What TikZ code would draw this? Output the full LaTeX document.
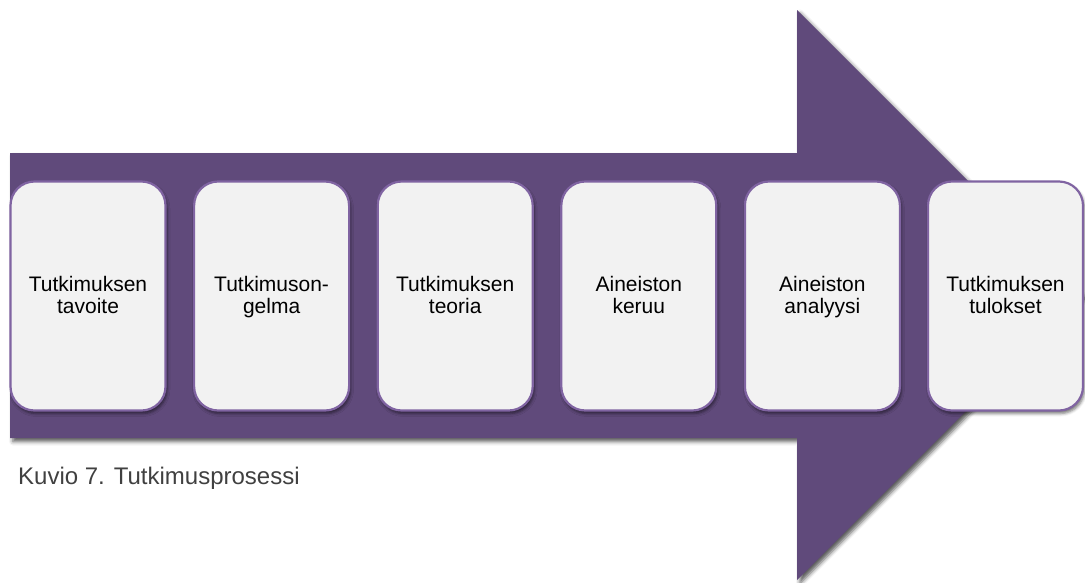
\documentclass[tikz,border=0pt]{standalone}
\usepackage{fontspec}
\setmainfont{Liberation Sans}
\usetikzlibrary{shadows,shadows.blur}
\definecolor{arrowfill}{HTML}{604A7B}
\definecolor{boxline}{HTML}{8064A2}
\definecolor{boxfill}{HTML}{F2F2F2}
\definecolor{captiontext}{HTML}{404040}
% two centred lines with fixed line extents, so every box sets its text alike
\newcommand{\stagetext}[2]{\rule{0pt}{17pt}#1\\#2\rule[-4.5pt]{0pt}{4.5pt}}
\begin{document}
\begin{tikzpicture}[x=1pt,y=-1pt,
  stagebox/.style={draw=boxline, line width=2.2pt, fill=boxfill,
    rounded corners=24pt, minimum width=155pt, minimum height=229pt,
    align=center, inner sep=0pt, text=black,
    font=\fontsize{21}{22.5}\selectfont,
    blur shadow={shadow xshift=1.5pt, shadow yshift=-3pt,
      shadow blur radius=3pt, shadow opacity=55}},
  caption/.style={text=captiontext, font=\fontsize{24}{28}\selectfont,
    inner sep=0pt, anchor=base west}]
  \useasboundingbox (0,0) rectangle (1085,582);

  % the big process arrow
  \path[fill=arrowfill,
    blur shadow={shadow xshift=3pt, shadow yshift=-3.5pt,
      shadow blur radius=4pt, shadow opacity=65}]
    (10,153) -- (797,153) -- (797,10) -- (1082,295) -- (797,580)
    -- (797,438) -- (10,438) -- cycle;

  % the six stages
  \node[stagebox] (s1) at (88,296)     {\stagetext{Tutkimuksen}{tavoite}};
  \node[stagebox] (s2) at (271.6,296)  {\stagetext{Tutkimuson-}{gelma}};
  \node[stagebox] (s3) at (455.2,296)  {\stagetext{Tutkimuksen}{teoria}};
  \node[stagebox] (s4) at (638.8,296)  {\stagetext{Aineiston}{keruu}};
  \node[stagebox] (s5) at (822.4,296)  {\stagetext{Aineiston}{analyysi}};
  \node[stagebox] (s6) at (1005.5,296) {\stagetext{Tutkimuksen}{tulokset}};

  % figure caption
  \node[caption] (cap) at (18,484) {Kuvio 7. Tutkimusprosessi};
\end{tikzpicture}
\end{document}
